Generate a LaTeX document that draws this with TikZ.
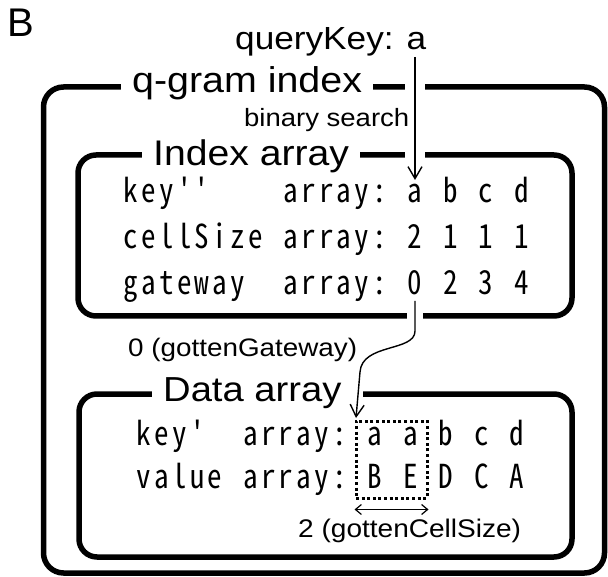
\documentclass[tikz,border=0pt]{standalone}
\usepackage{fontspec}
\setmainfont{Liberation Sans}
\newfontfamily\labf[FakeStretch=1.1]{Liberation Sans}
\newfontfamily\monof[RawFeature=+hwid,Ligatures=TeXOff,FakeStretch=0.88]{Noto Sans CJK JP}
\usetikzlibrary{arrows.meta}
% fixed-width cells so the array columns line up
\newlength\cellw
\setlength\cellw{17.75pt}
\ExplSyntaxOn
\NewDocumentCommand\cells{m}{\tl_map_inline:nn{#1}{\makebox[\cellw][c]{##1}}}
\ExplSyntaxOff
\begin{document}
\begin{tikzpicture}[x=1pt,y=-1pt,
  frame/.style={draw, line width=5.5pt, rounded corners=18pt},
  lab/.style={anchor=base west, inner sep=0pt},
  ttl/.style={lab, fill=white, inner xsep=11pt, inner ysep=0pt},
  row/.style={font=\monof\fontsize{33pt}{33pt}\selectfont, anchor=base west, inner sep=0pt},
  thinarr/.style={line width=1.4pt, -{Straight Barb[length=12pt,width=14pt]}},
  dblarr/.style={line width=1.2pt, {Straight Barb[length=6pt,width=10pt]}-{Straight Barb[length=6pt,width=10pt]}},
  selbox/.style={draw, line width=3pt, dash pattern=on 3pt off 2.6pt, inner sep=0pt}
]
\useasboundingbox (0,0) rectangle (608,577);

% panel letter and query
\node[lab, font=\fontsize{40pt}{40pt}\selectfont] (panel) at (7,37) {B};
\node[lab, font=\labf\fontsize{32pt}{32pt}\selectfont] (qk) at (235,50) {queryKey: a};

% frames
\draw[frame, rounded corners=20pt] (43.5,87) rectangle (604.5,573);
\draw[frame] (78,155) rectangle (572,316);
\draw[frame] (79,394) rectangle (572,557);

% frame titles
\node[ttl, font=\labf\fontsize{35.8pt}{36pt}\selectfont] (qg) at (121,93) {q-gram index};
\node[ttl, font=\labf\fontsize{35.6pt}{36pt}\selectfont] (ia) at (142,166) {Index array};
\node[ttl, font=\labf\fontsize{34.7pt}{35pt}\selectfont] (da) at (152,402) {Data array};

% breaks in the frame lines where the arrows cross
\fill[white] (405,81) rectangle (425,93);
\fill[white] (405,149) rectangle (425,161);
\fill[white] (407,310) rectangle (423,322);
\fill[white] (345,388) rectangle (363,400);

% index array rows
\node[row] (r1) at (122,203) {\cells{key''~~~~array:~a~b~c~d}};
\node[row] (r2) at (122,249) {\cells{cellSize~array:~2~1~1~1}};
\node[row] (r3) at (122,295) {\cells{gateway~~array:~0~2~3~4}};

% data array rows
\node[row] (d1) at (135,445) {\cells{key'~~array:~a~a~b~c~d}};
\node[row] (d2) at (135,488) {\cells{value~array:~B~E~D~C~A}};

% annotations
\node[lab, font=\labf\fontsize{25pt}{25pt}\selectfont] (bs) at (244,127) {binary search};
\node[lab, font=\labf\fontsize{25.3pt}{25pt}\selectfont] (gg) at (128,356) {0 (gottenGateway)};
\node[lab, font=\labf\fontsize{25.5pt}{25pt}\selectfont] (gc) at (298,537) {2 (gottenCellSize)};

% selected cells
\node[selbox, minimum width=71pt, minimum height=77pt] (sel) at (391.5,459.5) {};

% arrows
\coordinate (qs) at (415,57);
\coordinate (qe) at (415,180);
\draw[thinarr] (qs) -- (qe);

\coordinate (gs) at (415,301);
\coordinate (ge) at (356,418);
\draw[thinarr] (gs) -- (415,331) .. controls (415,352) and (362,343) .. (360,372) -- (ge);

\draw[dblarr] ([yshift=-10pt]sel.south west) -- ([yshift=-10pt]sel.south east);
\end{tikzpicture}
\end{document}
